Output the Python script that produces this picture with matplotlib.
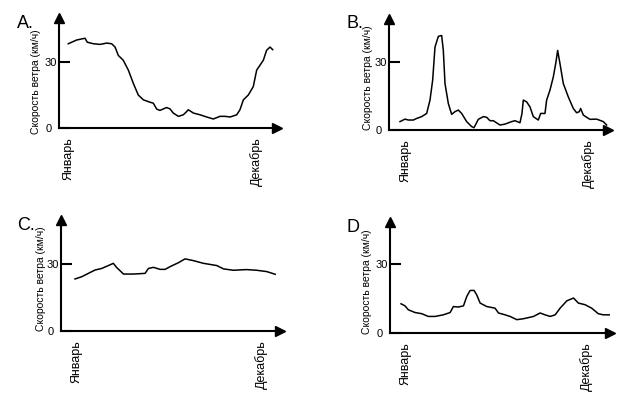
import matplotlib
matplotlib.use("Agg")
import matplotlib.pyplot as plt
from matplotlib.transforms import ScaledTranslation

plt.rcParams['font.family'] = ['Liberation Sans', 'DejaVu Sans']

# ── data (x in months: 0 = Январь, 11 = Декабрь; y in km/h) ─────────────────
months_a = [0, 0.49, 0.98, 1.11, 1.47, 1.86, 2.25, 2.54, 2.74, 2.93, 3.22, 3.52,
            3.81, 4.10, 4.40, 4.79, 4.98, 5.18, 5.37, 5.76, 5.96, 6.15, 6.45,
            6.74, 6.94, 7.03, 7.33, 7.72, 8.11, 8.50, 8.89, 9.18, 9.48, 9.87,
            10.06, 10.26, 10.55, 10.84, 11.04, 11.23, 11.43, 11.62, 11.82, 11.98]
speed_a = [38.3, 40.0, 40.8, 39.0, 38.3, 38.0, 38.6, 38.3, 36.8, 33.0, 30.8, 26.3,
           20.3, 15.0, 12.8, 11.7, 11.3, 8.6, 8.0, 9.3, 8.7, 6.8, 5.3,
           6.0, 7.5, 8.3, 6.8, 6.0, 5.0, 4.1, 5.3, 5.3, 5.0, 6.0,
           8.3, 12.8, 15.0, 18.8, 26.3, 28.5, 30.8, 35.3, 36.8, 35.6]

months_b = [-0.3, 0, 0.2, 0.5, 0.7, 1.0, 1.3, 1.5, 1.66, 1.8, 2.0, 2.2, 2.3, 2.4,
            2.6, 2.8, 3.0, 3.2, 3.4, 3.7, 4.0, 4.14, 4.4, 4.7, 4.9, 5.1, 5.3,
            5.7, 6.0, 6.4, 6.6, 6.9, 7.02, 7.1, 7.3, 7.5, 7.7, 8.0, 8.14, 8.4,
            8.5, 8.7, 8.9, 9.06, 9.16, 9.3, 9.5, 9.8, 10.1, 10.3, 10.46, 10.54,
            10.7, 10.9, 11.1, 11.5, 11.9, 12.1]
speed_b = [3.7, 4.8, 4.4, 4.4, 5.1, 5.9, 7.3, 13.2, 22.0, 36.6, 41.3, 41.7, 35.1, 20.5,
           11.7, 6.9, 8.1, 8.8, 7.3, 3.7, 1.5, 1.0, 4.7, 5.9, 5.6, 4.1, 4.1,
           2.2, 2.6, 3.7, 4.1, 3.2, 7.3, 13.2, 12.4, 10.2, 5.9, 4.4, 7.3, 7.3,
           13.2, 17.6, 23.4, 30.0, 35.1, 29.3, 20.5, 14.6, 9.5, 7.6, 8.1, 9.5,
           6.6, 5.6, 4.7, 4.8, 3.7, 2.2]

months_c = [-0.06, 0.34, 0.73, 1.13, 1.52, 1.92, 2.21, 2.41, 2.61, 2.81, 3.40, 4.09,
            4.29, 4.59, 4.98, 5.28, 5.57, 6.07, 6.46, 6.96, 7.55, 8.34, 8.74,
            9.33, 10.1, 10.7, 11.3, 11.8]
speed_c = [23.3, 24.3, 25.8, 27.3, 28.0, 29.3, 30.3, 28.4, 27.0, 25.5, 25.5, 25.8,
           28.0, 28.5, 27.6, 27.6, 28.8, 30.6, 32.3, 31.5, 30.3, 29.3, 27.8,
           27.2, 27.5, 27.2, 26.6, 25.4]

months_d = [-0.24, 0, 0.2, 0.61, 1.01, 1.41, 1.82, 2.32, 2.73, 2.93, 3.23, 3.54,
            3.74, 3.94, 4.18, 4.34, 4.55, 4.95, 5.45, 5.66, 6.06, 6.36, 6.77,
            7.17, 7.78, 8.18, 8.48, 8.79, 9.09, 9.39, 9.80, 10.2, 10.5, 10.9,
            11.3, 11.7, 12.0, 12.4]
speed_d = [12.7, 11.8, 10.1, 8.9, 8.4, 7.2, 7.2, 7.9, 8.9, 11.5, 11.3, 11.8,
           15.9, 18.5, 18.5, 16.6, 13.0, 11.5, 10.8, 8.7, 7.9, 7.2, 5.8,
           6.2, 7.2, 8.7, 7.9, 7.2, 7.9, 10.8, 14.0, 15.2, 13.0, 12.3,
           10.8, 8.4, 7.9, 7.9]

month_ticks = [0, 11]
month_labels = ['Январь', 'Декабрь']
speed_ticks = [0, 30]
speed_labels = ['0', '30']
ylabel = 'Скорость ветра (км/ч)'

# ── layout in pixels ─────────────────────────────────────────────────────────
W, H = 632, 409
# letter, letter (x, baseline), axis left, arrow tip right, axis base, arrow tip top,
# Январь px, Декабрь px, 30-tick px, ylabel centre
panels = [
    ('A.', (17, 28), 59, 282, 128, 13, 68.3, 256.0, 62, (36, 81.5), months_a, speed_a),
    ('B.', (346, 28), 389, 613, 130, 14, 405.0, 588.3, 62, (368, 78), months_b, speed_b),
    ('C.', (17, 230), 61, 285, 331, 215, 76.0, 261.7, 264, (41, 279), months_c, speed_c),
    ('D', (346, 232), 390, 615, 333, 217, 405.0, 586.7, 264, (367.5, 281.5), months_d, speed_d),
]

fig = plt.figure(figsize=(W / 100, H / 100), dpi=100)
fig.patch.set_facecolor('white')

for (letter, lxy, left, tip_r, base, tip_t, jan, dec, thirty, ylxy, xs, ys) in panels:
    right = tip_r - 5
    top = tip_t + 5
    ax = fig.add_axes([left / W, 1 - base / H, (right - left) / W, (base - top) / H])
    unit = (dec - jan) / 11
    ax.set_xlim((left - jan) / unit, (right - jan) / unit)
    scale = (base - thirty) / 30
    ax.set_ylim(0, (base - top) / scale)

    ax.plot(xs, ys, color='black', lw=1.1)

    for s in ['top', 'right']:
        ax.spines[s].set_visible(False)
    for s in ['left', 'bottom']:
        ax.spines[s].set_linewidth(1.5)
    ax.plot([0], [1], marker='^', ms=7, color='black', transform=ax.transAxes, clip_on=False)
    ax.plot([1], [0], marker='>', ms=7, color='black', transform=ax.transAxes, clip_on=False)

    ax.set_yticks(speed_ticks, labels=speed_labels)
    ax.tick_params(axis='y', direction='in', length=8, width=1.5, pad=1.5, labelsize=8)
    ax.set_xticks(month_ticks, labels=month_labels, rotation=90)
    ax.tick_params(axis='x', length=0, pad=6.5, labelsize=9)

    zero_lbl = ax.yaxis.get_major_ticks()[0].label1
    zero_lbl.set_transform(zero_lbl.get_transform() +
                           ScaledTranslation(-5 / 100, 0, fig.dpi_scale_trans))

    fig.text(ylxy[0] / W, 1 - ylxy[1] / H, ylabel, rotation=90,
             ha='center', va='center', fontsize=7.5)
    fig.text(lxy[0] / W, 1 - lxy[1] / H, letter, fontsize=13,
             ha='left', va='baseline')

fig.savefig('out.png', dpi=100)
